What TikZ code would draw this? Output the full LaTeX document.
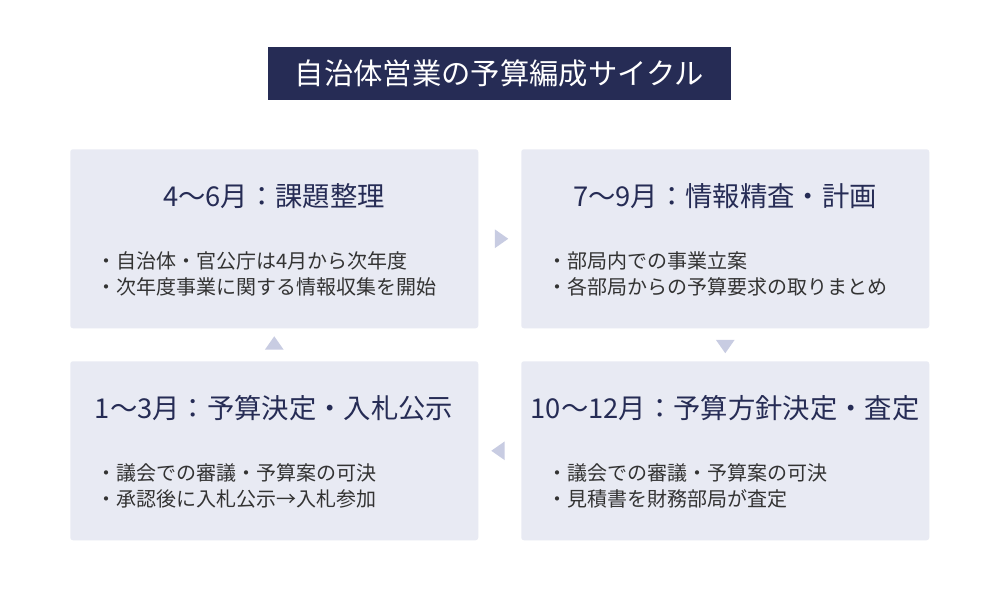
\documentclass[tikz,border=0pt]{standalone}
\usepackage{fontspec}
\setmainfont{Noto Sans CJK JP}
\usetikzlibrary{shapes.geometric,calc}
\definecolor{navy}{HTML}{262C55}
\definecolor{boxbg}{HTML}{E8EAF3}
\definecolor{tri}{HTML}{C8CCE2}
\definecolor{txt}{HTML}{333333}
\tikzset{
  card/.style={fill=boxbg, draw=none, rounded corners=2pt, minimum width=306pt, minimum height=134.25pt, anchor=north west},
  head/.style={text=navy, font=\fontsize{20.5pt}{24pt}\selectfont, anchor=center},
  bullets/.style={text=txt, font=\fontsize{15pt}{19.5pt}\selectfont, anchor=north west, align=left, inner sep=0pt},
  arr/.style={isosceles triangle, isosceles triangle apex angle=70, fill=tri, draw=none, minimum width=13pt, minimum height=10pt, inner sep=0pt}
}
\begin{document}
\begin{tikzpicture}[x=0.75pt,y=-0.75pt]
\useasboundingbox (0,0) rectangle (1000,600);
\fill[white] (0,0) rectangle (1000,600);
\node[fill=navy, minimum width=347pt, minimum height=40pt, inner sep=0pt, text=white, font=\fontsize{22pt}{26pt}\selectfont] (title) at (499.5,73.5) {自治体営業の予算編成サイクル};
\node[card] (b1) at (70,149) {};
\node[card] (b2) at (521,149) {};
\node[card] (b3) at (521,361) {};
\node[card] (b4) at (70,361) {};
\node[head] (h1) at (274,196) {4〜6月：課題整理};
\node[head] (h2) at (725,196) {7〜9月：情報精査・計画};
\node[head] (h3) at (725,408) {10〜12月：予算方針決定・査定};
\node[head] (h4) at (274,408) {1〜3月：予算決定・入札公示};
\node[bullets] (t1) at (96,251) {・自治体・官公庁は4月から次年度\\・次年度事業に関する情報収集を開始};
\node[bullets] (t2) at (547,251) {・部局内での事業立案\\・各部局からの予算要求の取りまとめ};
\node[bullets] (t3) at (547,463) {・議会での審議・予算案の可決\\・見積書を財務部局が査定};
\node[bullets] (t4) at (96,463) {・議会での審議・予算案の可決\\・承認後に入札公示→入札参加};
\node[arr, shape border rotate=0] (a1) at ($(b1.east)!0.5!(b2.west)$) {};
\node[arr, shape border rotate=-90] (a2) at ($(b2.south)!0.5!(b3.north)$) {};
\node[arr, shape border rotate=180] (a3) at ($(b3.west)!0.5!(b4.east)$) {};
\node[arr, shape border rotate=90] (a4) at ($(b4.north)!0.5!(b1.south)$) {};
\end{tikzpicture}
\end{document}
